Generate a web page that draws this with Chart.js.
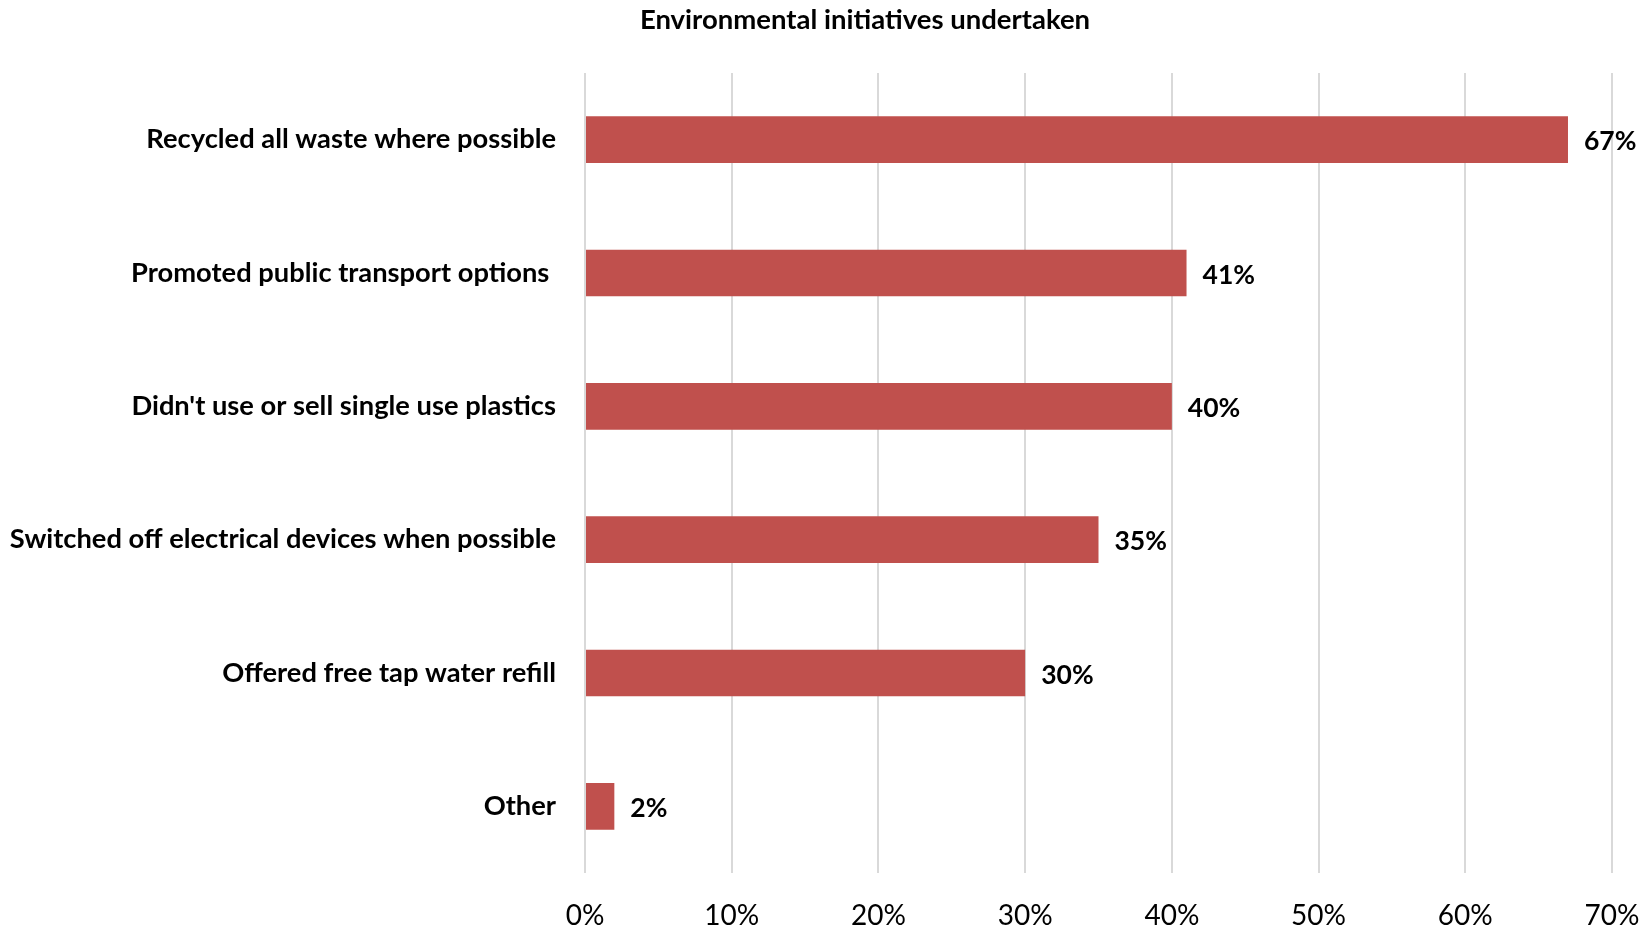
<!DOCTYPE html>
<html>
<head>
<meta charset="utf-8">
<title>Environmental initiatives undertaken</title>
<script src="https://cdn.jsdelivr.net/npm/chart.js@4.4.1/dist/chart.umd.min.js"></script>
<style>
  html, body { margin: 0; padding: 0; background: #fff; }
  #chart { display: block; }
</style>
</head>
<body>
<canvas id="chart" width="1652" height="929"></canvas>
<script>
const TITLE = "Environmental initiatives undertaken";
const categories = [
    "Recycled all waste where possible",
    "Promoted public transport options ",
    "Didn't use or sell single use plastics",
    "Switched off electrical devices when possible",
    "Offered free tap water refill",
    "Other"
];
const values = [67, 41, 40, 35, 30, 2];
const tickMax = 70;
const tickStep = 10;

const FONT = "Lato, 'Noto Sans', sans-serif";
const BAR_COLOR = '#C0504D';

// title sits a bit right of the canvas centre, above the plot
const titlePlugin = {
    id: 'topTitle',
    afterDraw(chart) {
        const ctx = chart.ctx;
        ctx.save();
        ctx.font = "bold 27.5px " + FONT;
        ctx.fillStyle = '#000';
        ctx.textAlign = 'center';
        ctx.textBaseline = 'middle';
        ctx.fillText(TITLE, 865, 20);
        ctx.restore();
    }
};

// percentage written just past the end of each bar
const valueLabels = {
    id: 'valueLabels',
    afterDatasetsDraw(chart) {
        const ctx = chart.ctx;
        const meta = chart.getDatasetMeta(0);
        ctx.save();
        ctx.font = "bold 26.5px " + FONT;
        ctx.fillStyle = '#000';
        ctx.textAlign = 'left';
        ctx.textBaseline = 'middle';
        meta.data.forEach((bar, i) => {
            ctx.fillText(values[i] + '%', bar.x + 16, bar.y + 2);
        });
        ctx.restore();
    }
};

new Chart(document.getElementById('chart'), {
    type: 'bar',
    data: {
        labels: categories,
        datasets: [{
            data: values,
            backgroundColor: BAR_COLOR,
            borderWidth: 0,
            barPercentage: 0.35,
            categoryPercentage: 1
        }]
    },
    options: {
        indexAxis: 'y',
        responsive: false,
        animation: false,
        layout: { padding: { top: 73, right: 40, left: 0, bottom: 0 } },
        plugins: {
            legend: { display: false },
            title: { display: false },
            tooltip: { enabled: false }
        },
        scales: {
            x: {
                min: 0,
                max: tickMax,
                afterFit(scale) {
                    scale.height = 56;
                    scale.paddingLeft = 0;
                    scale.paddingRight = 0;
                },
                border: { display: false },
                grid: { color: '#d9d9d9', lineWidth: 2, drawTicks: false },
                ticks: {
                    stepSize: tickStep,
                    color: '#000',
                    padding: 26,
                    font: { family: FONT, size: 28 },
                    callback: v => v + '%'
                }
            },
            y: {
                afterFit(scale) { scale.width = 585; },
                border: { display: false },
                grid: { display: false, drawTicks: false },
                ticks: {
                    color: '#000',
                    padding: 29,
                    font: { family: FONT, size: 27.3, weight: 'bold' }
                }
            }
        }
    },
    plugins: [titlePlugin, valueLabels]
});
</script>
</body>
</html>
